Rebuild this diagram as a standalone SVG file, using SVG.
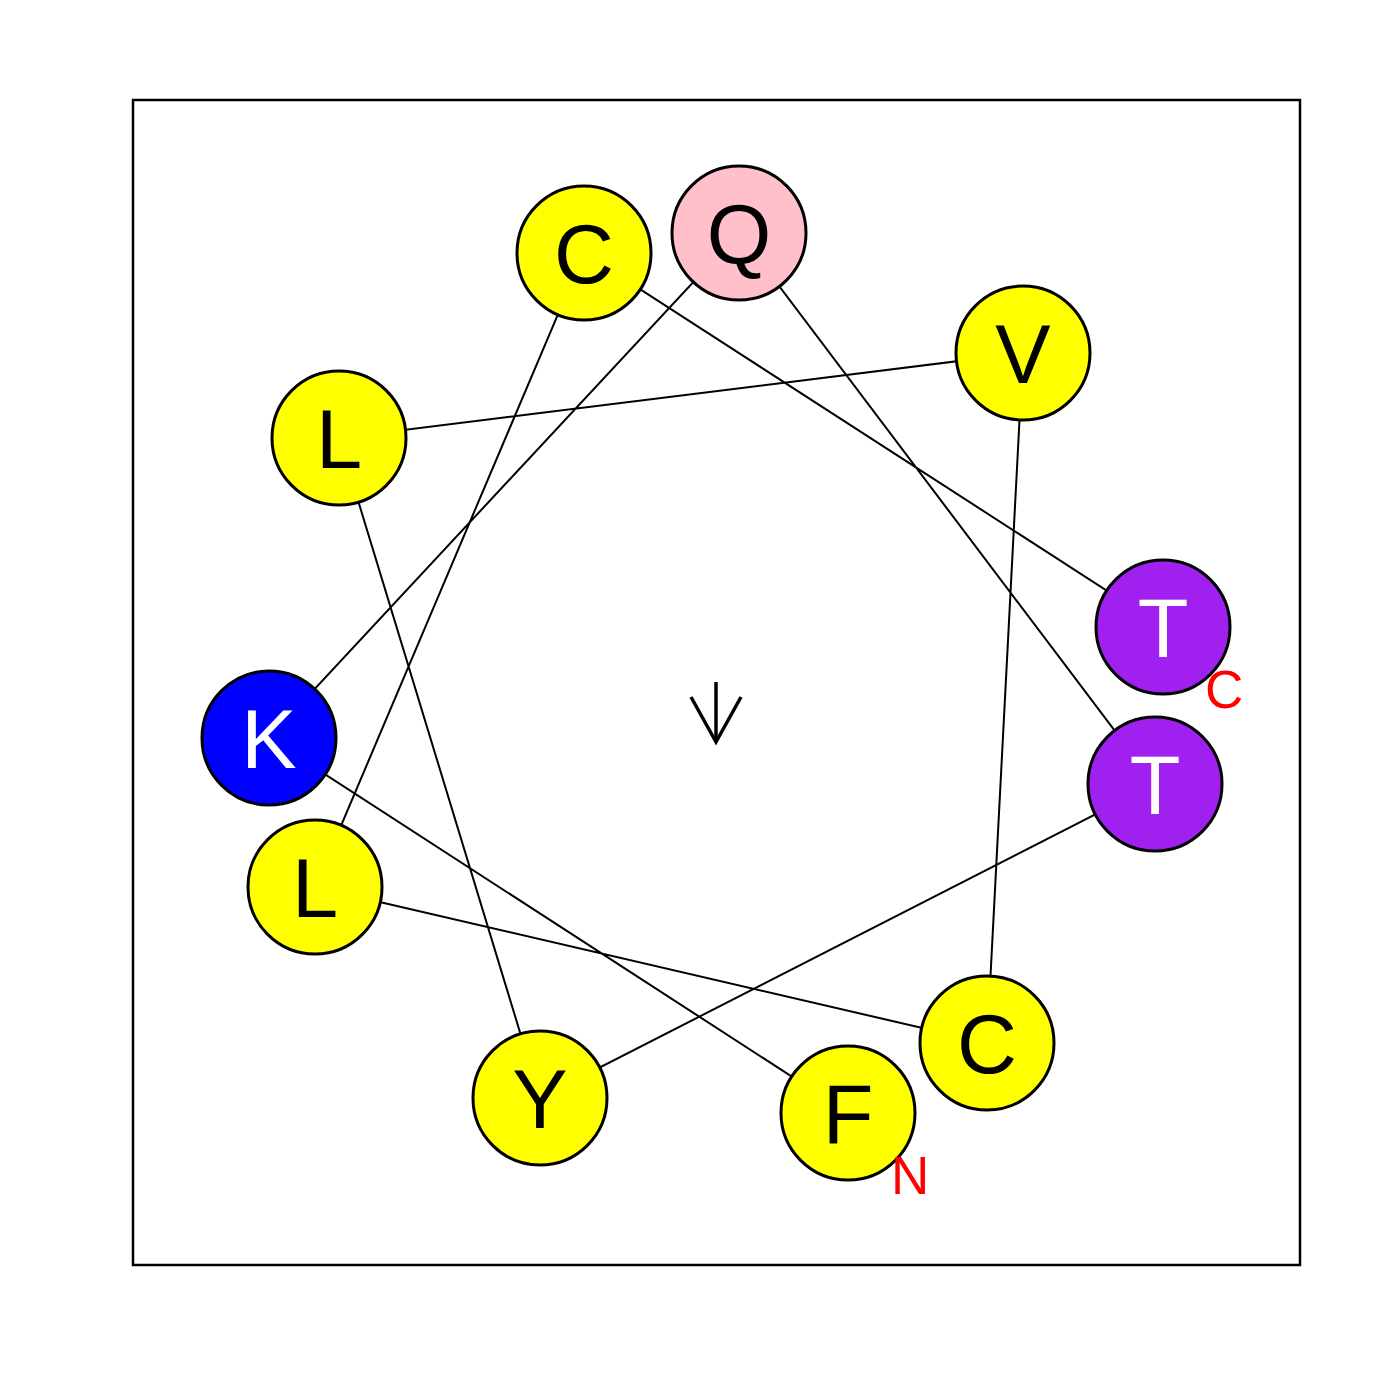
<svg xmlns="http://www.w3.org/2000/svg" width="1400" height="1400" viewBox="0 0 1400 1400">
<style>
.c{stroke:#000;stroke-width:3}
.l{stroke:#000;stroke-width:2;fill:none}
.t{font-family:"Liberation Sans",Arial,sans-serif;font-size:83px;text-anchor:middle}
.e{font-family:"Liberation Sans",Arial,sans-serif;font-size:53px;fill:#FF0000}
</style>
<rect x="0" y="0" width="1400" height="1400" fill="#fff"/>
<rect x="133" y="100" width="1167" height="1165" class="l" style="stroke-width:2.5"/>
<g id="connectors" class="l">
<polyline points="848,1113 269,738 739,233 1155,784 540,1098 339,438 1023,353 987,1043 315,887 584,253 1163,627"/>
</g>
<g id="arrow" class="l">
<line x1="716" y1="682" x2="716" y2="742" style="stroke-width:3.5"/>
<polyline points="691,697 716,742 741,697" style="stroke-width:3.5"/>
</g>
<g id="F"><circle cx="848" cy="1113" r="67" fill="#FFFF00" class="c"/><text x="848" y="1143" class="t">F</text></g>
<g id="K"><circle cx="269" cy="738" r="67" fill="#0000FF" class="c"/><text x="269" y="768" class="t" fill="#fff">K</text></g>
<g id="Q"><circle cx="739" cy="233" r="67" fill="#FFC0CB" class="c"/><text x="739" y="263" class="t">Q</text></g>
<g id="T1"><circle cx="1155" cy="784" r="67" fill="#A020F0" class="c"/><text x="1155" y="814" class="t" fill="#fff">T</text></g>
<g id="Y"><circle cx="540" cy="1098" r="67" fill="#FFFF00" class="c"/><text x="540" y="1128" class="t">Y</text></g>
<g id="L1"><circle cx="339" cy="438" r="67" fill="#FFFF00" class="c"/><text x="339" y="468" class="t">L</text></g>
<g id="V"><circle cx="1023" cy="353" r="67" fill="#FFFF00" class="c"/><text x="1023" y="383" class="t">V</text></g>
<g id="C1"><circle cx="987" cy="1043" r="67" fill="#FFFF00" class="c"/><text x="987" y="1073" class="t">C</text></g>
<g id="L2"><circle cx="315" cy="887" r="67" fill="#FFFF00" class="c"/><text x="315" y="917" class="t">L</text></g>
<g id="C2"><circle cx="584" cy="253" r="67" fill="#FFFF00" class="c"/><text x="584" y="283" class="t">C</text></g>
<g id="T2"><circle cx="1163" cy="627" r="67" fill="#A020F0" class="c"/><text x="1163" y="657" class="t" fill="#fff">T</text></g>
<text x="891" y="1194" class="e">N</text>
<text x="1205" y="708" class="e">C</text>
</svg>
